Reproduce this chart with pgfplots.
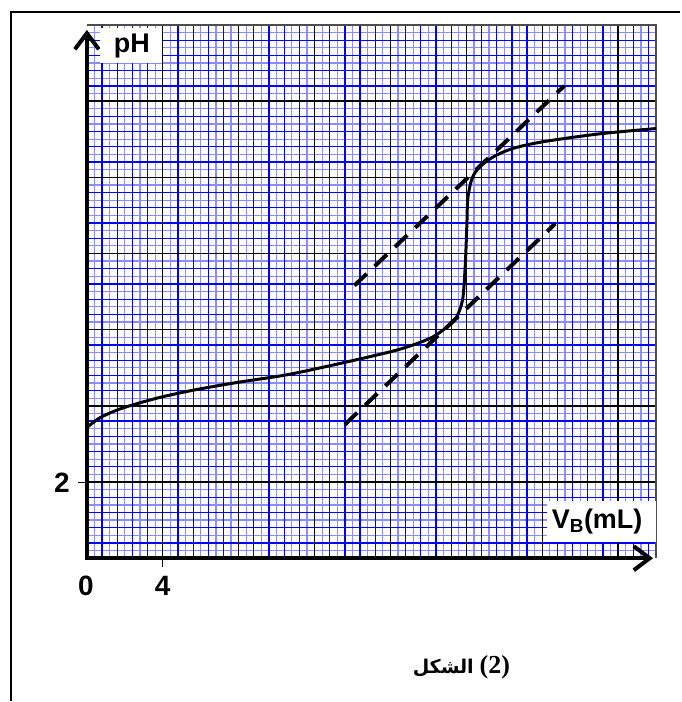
\documentclass[border=0pt]{standalone}
\usepackage{fontspec}
\setmainfont{Liberation Sans}
\newfontfamily\arabicfont[Script=Arabic]{DejaVu Sans}
\newfontfamily\seriffont{Liberation Serif}
\TeXXeTstate=1
\usepackage{pgfplots}
\pgfplotsset{compat=1.18}
\usetikzlibrary{arrows.meta}
\definecolor{lightblue}{RGB}{140,140,255}
\begin{document}
\begin{tikzpicture}[x=1pt,y=1pt]
\path (0,0) rectangle (681,702);
% frame
\draw[line width=2pt] (11,0) -- (11,690) -- (681,690);
% millimetre grid
\foreach \i in {1,...,74} \draw[lightblue, line width=1.25pt] ({87+\i*7.6},143) -- ({87+\i*7.6},677);
\foreach \j in {1,...,69} \draw[lightblue, line width=1.25pt] (87,{143+\j*7.62857}) -- (657,{143+\j*7.62857});
\foreach \i in {2,4,...,74} \draw[blue, line width=1.25pt] ({87+\i*7.6},143) -- ({87+\i*7.6},677);
\foreach \j in {2,4,...,68} \draw[blue, line width=1.25pt] (87,{143+\j*7.62857}) -- (657,{143+\j*7.62857});
\foreach \i in {10,20,...,70} \draw[black, line width=1.4pt] ({87+\i*7.6},143) -- ({87+\i*7.6},677);
\foreach \j in {10,20,...,60} \draw[black, line width=1.4pt] (87,{143+\j*7.62857}) -- (657,{143+\j*7.62857});
\draw[black!70, line width=1.2pt] (87,677) -- (657,677) -- (657,143);
\begin{axis}[at={(87pt,143pt)}, anchor=south west, scale only axis,
  width=570pt, height=534pt, xmin=0, xmax=30, ymin=0, ymax=14,
  axis lines=none, clip=false]
\addplot[smooth, tension=0.5, line width=3pt, black] coordinates {
(0,3.43) (0.7,3.69) (1.7,3.91) (2.8,4.08) (4,4.24) (5.8,4.43) (8,4.62)
(10,4.77) (11.2,4.88) (13.5,5.13) (16,5.42) (17.2,5.6) (18.2,5.8)
(18.9,6.04) (19.45,6.3) (19.8,6.78) (19.93,7.57) (19.98,8.1) (20.03,8.8)
(20.08,9.45) (20.3,9.97) (20.7,10.27) (21.4,10.53) (22.4,10.75)
(24,10.93) (27,11.14) (30,11.28)};
\addplot[black, line width=4pt, dash pattern=on 17pt off 11pt] coordinates {(14.1,7.16) (25.16,12.40)};
\addplot[black, line width=4pt, dash pattern=on 17pt off 11pt] coordinates {(13.6,3.51) (24.68,8.78)};
\end{axis}
% axes with arrows
\draw[line width=4pt, line join=miter, {Straight Barb[length=16pt,width=24pt]}-{Straight Barb[length=16pt,width=24pt]}]
  (87,672) -- (87,143) -- (654,143);
% ticks
\draw[line width=1.4pt] (78,219) -- (87,219);
\draw[line width=1.4pt] (163,143) -- (163,134);
% label boxes
\fill[white] (100,639) rectangle (162,674);
\node[font=\fontsize{27}{30}\selectfont\bfseries] at (132,656) {pH};
\fill[white] (548,159) rectangle (657,200);
\node[font=\fontsize{27}{30}\selectfont\bfseries] at (598,180) {V\textsubscript{B}(mL)};
% tick labels
\node[font=\fontsize{28}{30}\selectfont\bfseries] at (86,115) {0};
\node[font=\fontsize{28}{30}\selectfont\bfseries] at (163,115) {4};
\node[font=\fontsize{28}{30}\selectfont\bfseries] at (62,219) {2};
% caption
\node at (462,34) {{\arabicfont\fontsize{19}{23}\selectfont\bfseries\beginR الشكل\endR}\hspace{6pt}{\seriffont\fontsize{26}{30}\selectfont\bfseries (2)}};
\end{tikzpicture}
\end{document}
